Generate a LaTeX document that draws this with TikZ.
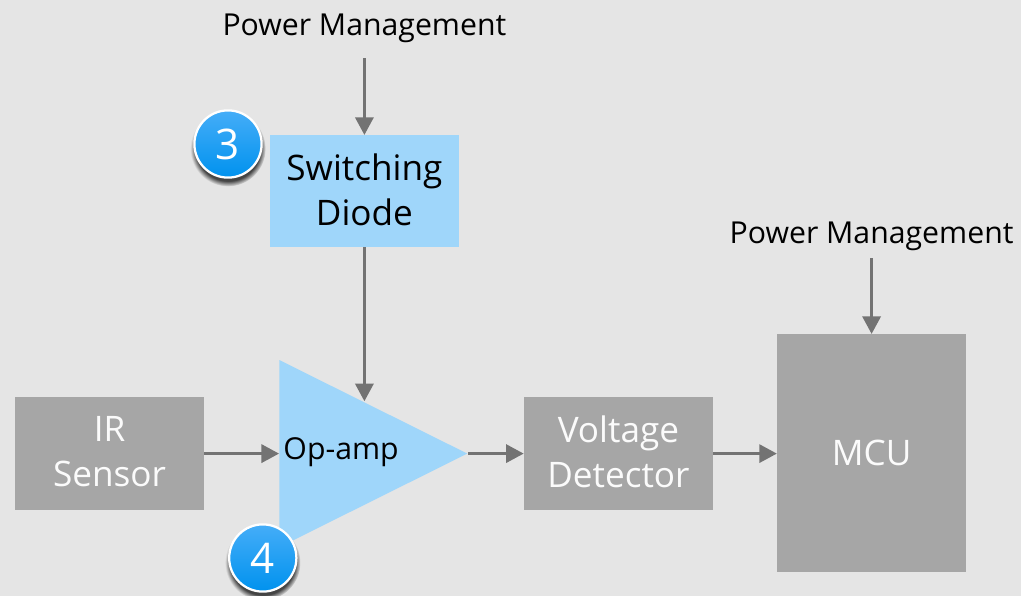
\documentclass[tikz,border=0pt]{standalone}
\usepackage{fontspec}
\setmainfont{Open Sans}
\usepackage{xcolor}
\usepackage{tikz}
\usetikzlibrary{arrows.meta}
\usetikzlibrary{shapes.geometric}
\usetikzlibrary{shadows}
\definecolor{bgGray}{HTML}{E5E5E5}
\definecolor{boxBlue}{HTML}{9FD6FA}
\definecolor{boxGray}{HTML}{A6A6A6}
\definecolor{flowGray}{HTML}{737373}
\definecolor{badgeTop}{HTML}{45ADF8}
\definecolor{badgeBot}{HTML}{0092EE}
\tikzset{
	block/.style={minimum width=4.725cm,minimum height=2.8cm,inner sep=0pt,align=center,
		text depth=0.1cm,font=\fontsize{25}{32}\selectfont},
	sensor/.style={block,fill=boxGray,text=white!95!boxGray},
	switcher/.style={block,fill=boxBlue,text=black},
	flow/.style={draw=flowGray,line width=1.8pt,-{Triangle[length=12.5pt,width=13pt]}},
	powerlabel/.style={inner sep=0pt,font=\fontsize{21.5}{25}\selectfont,text=black},
	badge/.style={circle,draw=white,line width=1.6pt,minimum size=1.68cm,inner sep=0pt,
		top color=badgeTop,bottom color=badgeBot,text=white,
		font=\fontsize{30}{36}\selectfont,
		circular drop shadow={shadow xshift=0pt,shadow yshift=-3pt,shadow scale=1.12,fill=black,opacity=0.7}},
}

\begin{document}
\begin{tikzpicture}
\useasboundingbox[fill=bgGray] (0,0) rectangle (25.525,-14.9);

% blocks
\node[switcher] (diode) at (9.11,-4.78) {Switching\\Diode};
\node[sensor,minimum height=2.83cm] (ir) at (2.74,-11.34) {IR\\Sensor};
\node[sensor,minimum height=2.83cm] (volt) at (15.46,-11.34) {Voltage\\Detector};
\node[sensor,minimum height=5.95cm,text depth=0pt] (mcu) at (21.79,-11.33) {MCU};

% amplifier
\node[isosceles triangle,isosceles triangle stretches,fill=boxBlue,inner sep=0pt,
	minimum width=4.68cm,minimum height=4.7cm,anchor=lower side] (opamp) at (6.975,-11.34) {};
\node[font=\fontsize{21.5}{24}\selectfont,inner sep=0pt,anchor=west] (opamptext) at (7.08,-11.31) {Op-amp};
\coordinate (opin) at (9.11,-10.03);

% labels
\node[powerlabel,minimum height=1.5cm] (powerA) at (9.11,-0.7) {Power Management};
\node[powerlabel,minimum height=1.1cm] (powerB) at (21.79,-5.9) {Power Management};

% connections
\draw[flow] (powerA) -- (diode);
\draw[flow] (powerB) -- (mcu);
\draw[flow] (diode) -- (opin);
\draw[flow] (ir) -- (ir -| opamp.lower side);
\draw[flow] (opamp.apex) -- (opamp.apex -| volt.west);
\draw[flow] (volt) -- (mcu.west |- volt);

% badges
\node[badge] (badgeA) at (5.7,-3.6) {3};
\node[badge] (badgeB) at (6.57,-13.95) {4};

\end{tikzpicture}
\end{document}
